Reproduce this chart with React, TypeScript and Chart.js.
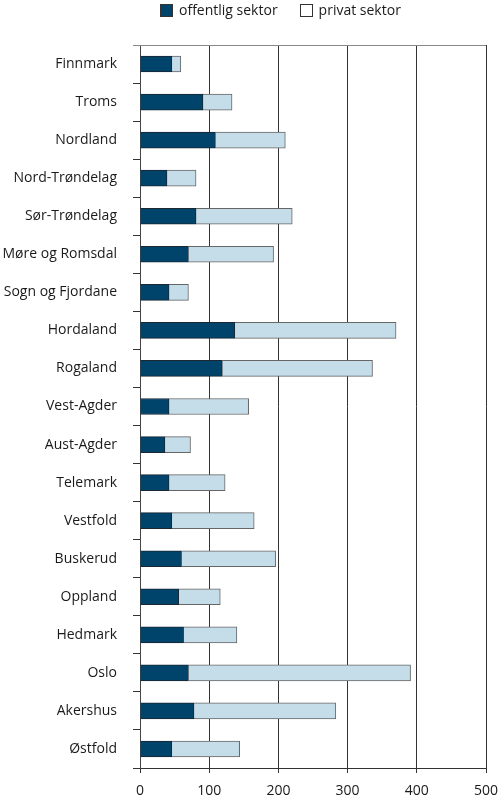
import React, { useEffect, useRef } from "react";
import { Chart, registerables } from "chart.js";

Chart.register(...registerables);

const categories: string[] = [
  "Finnmark",
  "Troms",
  "Nordland",
  "Nord-Trøndelag",
  "Sør-Trøndelag",
  "Møre og Romsdal",
  "Sogn og Fjordane",
  "Hordaland",
  "Rogaland",
  "Vest-Agder",
  "Aust-Agder",
  "Telemark",
  "Vestfold",
  "Buskerud",
  "Oppland",
  "Hedmark",
  "Oslo",
  "Akershus",
  "Østfold",
];

const offentlig: number[] = [46, 91, 109, 39, 81, 70, 42, 137, 119, 42, 36, 42, 46, 60, 56, 63, 70, 78, 46];
const privat: number[] = [13, 42, 101, 42, 139, 123, 28, 233, 217, 115, 37, 81, 119, 136, 60, 77, 321, 205, 98];

const xTicks: number[] = [0, 100, 200, 300, 400, 500];

const DARK = "#00436b";
const LIGHT = "#c5dde9";
const FONT = "'Open Sans', sans-serif";

const topFrame = {
  id: "topFrame",
  afterDraw(chart: any) {
    const { ctx, chartArea } = chart;
    ctx.save();
    ctx.strokeStyle = "#888";
    ctx.lineWidth = 1;
    ctx.beginPath();
    const y = Math.round(chartArea.top) + 0.5;
    ctx.moveTo(chartArea.left - 7, y);
    ctx.lineTo(chartArea.right, y);
    ctx.stroke();
    ctx.restore();
  },
};

export default function App() {
  const ref = useRef<HTMLCanvasElement | null>(null);

  useEffect(() => {
    document.body.style.margin = "0";
    const canvas = ref.current;
    if (!canvas) return;
    const chart = new Chart(canvas, {
      type: "bar",
      data: {
        labels: categories,
        datasets: [
          {
            label: "offentlig sektor",
            data: offentlig,
            backgroundColor: DARK,
            borderColor: "#1a2630",
            borderWidth: 1,
            barThickness: 16,
          },
          {
            label: "privat sektor",
            data: privat,
            backgroundColor: LIGHT,
            borderColor: "#666",
            borderWidth: 1,
            barThickness: 16,
          },
        ],
      },
      options: {
        indexAxis: "y",
        responsive: false,
        animation: false,
        layout: { padding: { top: 45, right: 14, left: 0, bottom: 0 } },
        plugins: {
          legend: { display: false },
          tooltip: { enabled: false },
        },
        scales: {
          x: {
            stacked: true,
            min: 0,
            max: 500,
            z: 1,
            afterBuildTicks: (scale: any) => {
              scale.ticks = xTicks.map((v) => ({ value: v }));
            },
            afterFit: (scale: any) => {
              scale.height = 38;
              scale.paddingLeft = 0;
              scale.paddingRight = 0;
            },
            grid: {
              color: "#333",
              lineWidth: 1,
              tickLength: 5,
              drawOnChartArea: true,
            },
            border: { display: true, color: "#333" },
            ticks: {
              color: "#1a1a1a",
              font: { family: FONT, size: 14 },
              padding: 10,
            },
          },
          y: {
            stacked: true,
            afterFit: (scale: any) => {
              scale.width = 140;
              scale.paddingTop = 0;
              scale.paddingBottom = 0;
            },
            grid: {
              display: true,
              drawOnChartArea: false,
              color: "#333",
              tickLength: 7,
              offset: true,
            },
            border: { display: true, color: "#444" },
            ticks: {
              color: "#1a1a1a",
              font: { family: FONT, size: 14 },
              padding: 16,
            },
          },
        },
      },
      plugins: [topFrame],
    } as any);
    return () => chart.destroy();
  }, []);

  const box = (bg: string) => ({
    display: "inline-block",
    width: 13,
    height: 13,
    background: bg,
    border: "1px solid #333",
    boxSizing: "border-box" as const,
    marginRight: 6,
    verticalAlign: "-2px",
  });

  return (
    <div style={{ position: "relative", width: 500, height: 806 }}>
      <div
        style={{
          position: "absolute",
          top: 1,
          left: 160,
          fontFamily: FONT,
          fontSize: 14,
          color: "#1a1a1a",
          whiteSpace: "nowrap",
          lineHeight: "18px",
        }}
      >
        <span style={box(DARK)} />
        <span>offentlig sektor</span>
        <span style={{ display: "inline-block", width: 22 }} />
        <span style={box("#fff")} />
        <span>privat sektor</span>
      </div>
      <canvas ref={ref} width={500} height={806} />
    </div>
  );
}
